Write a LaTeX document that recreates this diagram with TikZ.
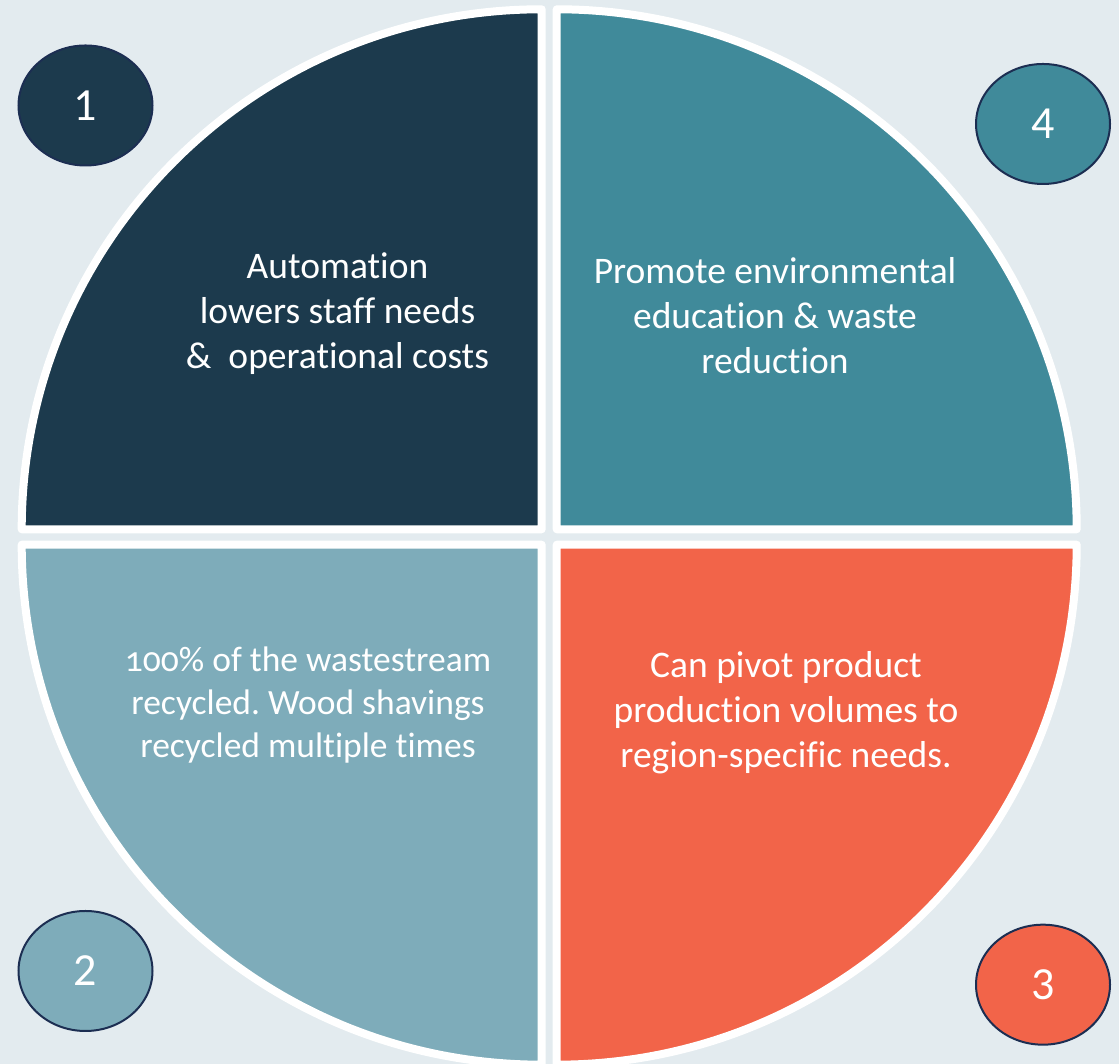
\documentclass[tikz,border=0pt]{standalone}
\usepackage{fontspec}
\setmainfont{Carlito}[Ligatures=NoCommon]
\newfontfamily\oldnum{Carlito}[Ligatures=NoCommon,Numbers=OldStyle]
\frenchspacing
\usetikzlibrary{shapes.geometric}
\definecolor{bgc}{HTML}{E3EBEF}
\definecolor{qone}{HTML}{1C3A4D}
\definecolor{qfour}{HTML}{408A9A}
\definecolor{qtwo}{HTML}{7EACBA}
\definecolor{qthree}{HTML}{F26449}
\definecolor{rimc}{HTML}{1C2E52}
\tikzset{
  quarter/.style={draw=white, line width=8pt, line join=round},
  badge/.style={ellipse, draw=rimc, line width=2pt, minimum width=134pt, minimum height=120pt, inner sep=0pt, text=white, font=\fontsize{46}{52}\selectfont},
  label/.style={align=center, text=white, inner sep=0pt, anchor=base, font=\fontsize{37.5}{45}\selectfont}
}
\begin{document}
\begin{tikzpicture}[x=1pt,y=1pt]
\fill[bgc] (0,0) rectangle (1119,1064);
\useasboundingbox (0,0) rectangle (1119,1064);
% quarters
\filldraw[quarter, fill=qone] (541.7,534.7) -- ++(-520,0) arc[start angle=180,end angle=90,radius=520] -- cycle;
\filldraw[quarter, fill=qfour] (556.7,534.7) -- ++(0,520) arc[start angle=90,end angle=0,radius=520] -- cycle;
\filldraw[quarter, fill=qtwo] (541.7,519.3) -- ++(-520,0) arc[start angle=180,end angle=270,radius=520] -- cycle;
\filldraw[quarter, fill=qthree] (556.7,519.3) -- ++(520,0) arc[start angle=0,end angle=-90,radius=520] -- cycle;
% badges
\node[badge, fill=qone] (b1) at (85.5,958.5) {1};
\node[badge, fill=qfour] (b4) at (1043,940) {4};
\node[badge, fill=qtwo] (b2) at (85.5,93) {2};
\node[badge, fill=qthree] (b3) at (1043,79.3) {3};
% texts (anchor at last line baseline)
\node[label] (t1) at (337.5,1064-369) {Automation\\lowers staff needs\\\&\ \ operational costs};
\node[label] (t4) at (775,1064-374) {Promote environmental\\education \& waste\\reduction};
\node[label, font=\oldnum\fontsize{35.5}{43}\selectfont] (t2) at (308,1064-758) {100\% of the wastestream\\recycled. Wood shavings\\recycled multiple times};
\node[label] (t3) at (786,1064-768) {Can pivot product\\production volumes to\\region-specific needs.};
\end{tikzpicture}
\end{document}
